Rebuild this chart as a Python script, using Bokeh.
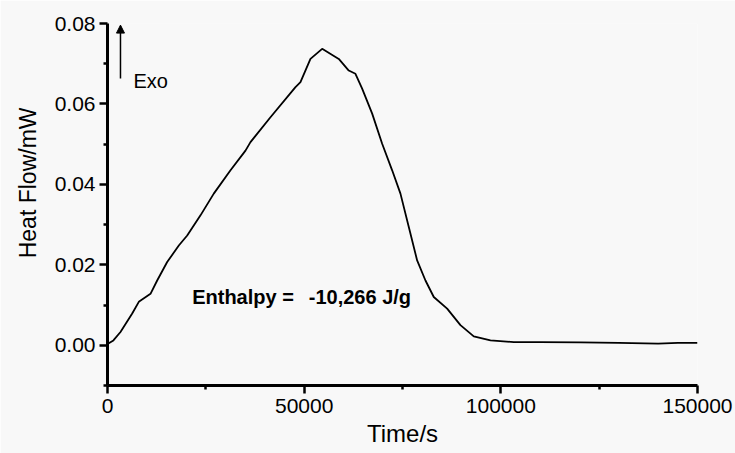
from bokeh.plotting import figure
from bokeh.models import (Range1d, FixedTicker, PrintfTickFormatter, Label, Arrow,
                          NormalHead, Title)
from bokeh.embed import file_html
from bokeh.resources import INLINE

# ---- data ----
time_s = [0, 1500, 3300, 6280, 7960, 10930, 12630, 15170, 18130, 20260, 23640,
          27020, 31270, 35080, 36350, 41430, 47790, 49060, 51600, 54570, 58800,
          61340, 63040, 64740, 67290, 69830, 72370, 74480, 76600, 78720, 80840,
          82950, 86350, 89730, 93120, 97360, 103300, 110000, 120240, 130000,
          140000, 145000, 150000]
heat_flow = [0.0003, 0.0012, 0.0033, 0.0079, 0.0108, 0.0128, 0.0161, 0.0207,
             0.0248, 0.0273, 0.0323, 0.0377, 0.0435, 0.0484, 0.0505, 0.0567,
             0.0642, 0.0654, 0.0712, 0.0737, 0.0712, 0.0683, 0.0675, 0.0638,
             0.0576, 0.0501, 0.0435, 0.0377, 0.0294, 0.0211, 0.0161, 0.0120,
             0.0091, 0.0050, 0.0022, 0.0012, 0.0008, 0.0008, 0.0007, 0.0006,
             0.0004, 0.0006, 0.0006]

x_ticks = [0, 50000, 100000, 150000]
x_minor = [25000, 75000, 125000]
y_ticks = [0.0, 0.02, 0.04, 0.06, 0.08]
y_minor = [-0.01, 0.01, 0.03, 0.05, 0.07]

x_label = "Time/s"
y_label = "Heat Flow/mW"
enthalpy_name = "Enthalpy ="
enthalpy_value = "-10,266 J/g"
exo_text = "Exo"

FONT = "Liberation Sans"
BG = "#f8f8f8"

p = figure(width=735, height=453, output_backend="svg", toolbar_location=None,
           x_range=Range1d(0, 150000), y_range=Range1d(-0.01, 0.08),
           min_border_left=107, min_border_right=38, min_border_top=23,
           min_border_bottom=68)
p.background_fill_color = BG
p.border_fill_color = BG
p.outline_line_color = None
p.grid.visible = False

p.line(time_s, heat_flow, line_color="black", line_width=1.8)

p.axis.axis_line_width = 3
p.axis.axis_line_color = "black"
p.axis.major_tick_line_width = 2.5
p.axis.major_tick_line_color = "black"
p.axis.minor_tick_line_width = 2.5
p.axis.minor_tick_line_color = "black"
p.axis.major_tick_out = 8
p.axis.major_tick_in = 0
p.axis.minor_tick_out = 4
p.axis.minor_tick_in = 0
p.axis.major_label_text_font = FONT
p.axis.major_label_text_font_size = "21px"
p.axis.major_label_text_color = "black"

p.xaxis.ticker = FixedTicker(ticks=x_ticks, minor_ticks=x_minor)
p.yaxis.ticker = FixedTicker(ticks=y_ticks, minor_ticks=y_minor)
p.xaxis.formatter = PrintfTickFormatter(format="%d")
p.yaxis.formatter = PrintfTickFormatter(format="%.2f")
p.xaxis.major_label_standoff = 5
p.yaxis.major_label_standoff = 4

p.xaxis.axis_label = x_label
p.xaxis.axis_label_text_font = FONT
p.xaxis.axis_label_text_font_size = "24px"
p.xaxis.axis_label_text_font_style = "normal"
p.xaxis.axis_label_text_color = "black"
p.xaxis.axis_label_standoff = 4

# y-axis label as a side title, placed off-centre like the reference
p.add_layout(Title(text=y_label, align="right", offset=84, text_font=FONT,
                   text_font_size="23px", text_font_style="normal",
                   text_color="black", standoff=21), "left")

p.add_layout(Arrow(end=NormalHead(size=8, fill_color="black", line_color="black"),
                   x_start=3300, y_start=0.0663, x_end=3300, y_end=0.0796,
                   line_width=1.5, line_color="black"))
p.add_layout(Label(x=6600, y=0.0658, text=exo_text, text_font=FONT,
                   text_font_size="20px", text_baseline="middle",
                   text_color="black"))

p.add_layout(Label(x=21530, y=0.01205, text=enthalpy_name, text_font=FONT,
                   text_font_size="20px", text_font_style="bold",
                   text_baseline="middle", text_color="black"))
p.add_layout(Label(x=51170, y=0.01205, text=enthalpy_value, text_font=FONT,
                   text_font_size="20px", text_font_style="bold",
                   text_baseline="middle", text_color="black"))

open("out.html", "w").write(file_html(p, INLINE))
